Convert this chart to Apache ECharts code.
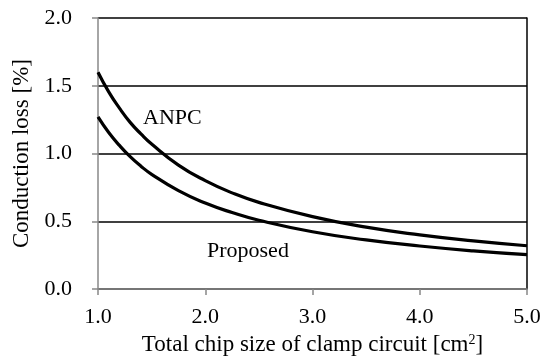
<!DOCTYPE html>
<html><head><meta charset="utf-8">
<script src="https://cdn.jsdelivr.net/npm/echarts@6/dist/echarts.min.js"></script>
<style>html,body{margin:0;padding:0;background:#fff}#c{width:547px;height:361px}</style>
</head><body><div id="c"></div>
<script>
var xValues = [1.0, 1.1, 1.2, 1.3, 1.4, 1.5, 1.75, 2.0, 2.25, 2.5, 3.0, 3.5, 4.0, 4.5, 5.0];
var anpc = [1.60, 1.455, 1.335, 1.23, 1.145, 1.07, 0.915, 0.80, 0.71, 0.64, 0.535, 0.457, 0.40, 0.356, 0.32];
var proposed = [1.27, 1.155, 1.06, 0.977, 0.907, 0.847, 0.726, 0.635, 0.565, 0.508, 0.423, 0.363, 0.318, 0.282, 0.254];
var xTicks = ['1.0', '2.0', '3.0', '4.0', '5.0'];
var yTicks = ['0.0', '0.5', '1.0', '1.5', '2.0'];
var labels = [{text: 'ANPC', x: 143, y: 119}, {text: 'Proposed', x: 207, y: 252}];

var font = '"Liberation Serif", "Times New Roman", serif';
var fs = 22;
var fsName = 23;
var chart = echarts.init(document.getElementById('c'));
function pairs(ys) { return xValues.map(function (x, i) { return [x, ys[i]]; }); }
chart.setOption({
  animation: false,
  grid: {left: 98, right: 20, top: 18, bottom: 69},
  xAxis: {
    type: 'value', min: 1, max: 5, interval: 1,
    axisLine: {show: true, lineStyle: {color: '#888', width: 1.5}},
    axisTick: {show: true, length: 6, lineStyle: {color: '#888', width: 1.5}},
    splitLine: {show: false},
    axisLabel: {fontFamily: font, fontSize: fs, color: '#000', margin: 17,
      formatter: function (v) { return xTicks[Math.round(v) - 1]; }},
    name: '{a|Total chip size of clamp circuit [cm}{s|2}{a|]}',
    nameLocation: 'middle', nameGap: 41,
    nameTextStyle: {rich: {a: {fontFamily: font, fontSize: fsName, color: '#000'},
      s: {fontFamily: font, fontSize: 14, color: '#000', verticalAlign: 'top', padding: [0, 0, 9, 0]}}}
  },
  yAxis: [{
    type: 'value', min: 0, max: 2, interval: 0.5,
    axisLine: {show: true, lineStyle: {color: '#888', width: 1.5}},
    axisTick: {show: true, length: 6, lineStyle: {color: '#888', width: 1.5}},
    splitLine: {show: true, lineStyle: {color: '#000', width: 1.5}},
    axisLabel: {fontFamily: font, fontSize: fs, color: '#000', margin: 26,
      formatter: function (v) { return yTicks[Math.round(v * 2)]; }},
    name: 'Conduction loss [%]', nameLocation: 'middle', nameGap: 61,
    nameTextStyle: {fontFamily: font, fontSize: fsName, color: '#000'}
  }, {
    type: 'value', min: 0, max: 2, interval: 0.5, position: 'right',
    axisLine: {show: true, lineStyle: {color: '#000', width: 1.5}},
    axisTick: {show: false}, axisLabel: {show: false}, splitLine: {show: false}
  }],
  series: [
    {type: 'line', data: pairs(anpc), smooth: true, symbol: 'none', lineStyle: {color: '#000', width: 3.2}},
    {type: 'line', data: pairs(proposed), smooth: true, symbol: 'none', lineStyle: {color: '#000', width: 3.2}}
  ],
  graphic: labels.map(function (l) {
    return {type: 'text', left: l.x, top: l.y - 12, style: {text: l.text, font: fs + 'px ' + font, fill: '#000'}};
  })
});
</script></body></html>
